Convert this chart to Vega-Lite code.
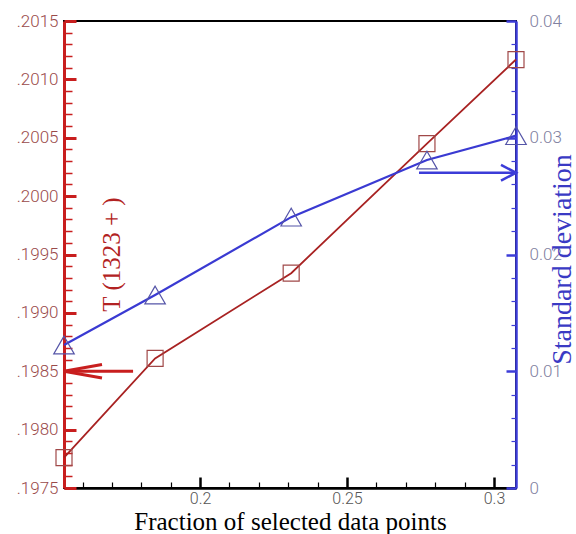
{
  "$schema": "https://vega.github.io/schema/vega-lite/v6.json",
  "width": 452,
  "height": 467,
  "autosize": {"type": "none"},
  "padding": {"left": 64, "top": 21, "right": 60, "bottom": 46},
  "config": {
    "view": {"stroke": "black", "strokeWidth": 2},
    "axis": {"grid": false, "labelFlush": false, "labelOverlap": false, "labelFont": "Roboto", "labelFontWeight": 300, "labelFontSize": 17, "titleFont": "Liberation Serif", "titleFontWeight": "normal"}
  },
  "datasets": {
    "temp": [
      {"fraction": 0.1537, "T": 0.19776},
      {"fraction": 0.1847, "T": 0.19861},
      {"fraction": 0.231, "T": 0.19934},
      {"fraction": 0.2772, "T": 0.20045},
      {"fraction": 0.3075, "T": 0.20117}
    ],
    "std": [
      {"fraction": 0.1537, "sd": 0.01225},
      {"fraction": 0.1847, "sd": 0.01653},
      {"fraction": 0.231, "sd": 0.0232},
      {"fraction": 0.2772, "sd": 0.02809},
      {"fraction": 0.3075, "sd": 0.03018}
    ],
    "arrowT": [{"from": 0.1772, "to": 0.1537, "T": 0.1985}],
    "arrowSd": [{"from": 0.2745, "to": 0.3075, "sd": 0.027}]
  },
  "layer": [
    {
      "layer": [
        {
          "data": {"name": "temp"},
          "mark": {"type": "line", "color": "#a82222", "strokeWidth": 1.8},
          "encoding": {
            "x": {"field": "fraction", "type": "quantitative", "scale": {"domain": [0.1537, 0.3075], "nice": false, "zero": false},
              "axis": {
                "orient": "bottom",
                "values": [0.16, 0.17, 0.18, 0.19, 0.2, 0.21, 0.22, 0.23, 0.24, 0.25, 0.26, 0.27, 0.28, 0.29, 0.3],
                "tickCount": 200,
                "labelOverlap": false,
                "domainColor": "black", "domainWidth": 2.5,
                "tickColor": "black",
                "tickSize": {"condition": {"test": "abs(datum.value*20 - round(datum.value*20)) < 0.01", "value": -11}, "value": -6},
                "tickWidth": {"condition": {"test": "abs(datum.value*20 - round(datum.value*20)) < 0.01", "value": 2.5}, "value": 1.2},
                "labelExpr": "abs(datum.value*20 - round(datum.value*20)) < 0.01 ? format(datum.value, '~g') : ''",
                "labelPadding": 13,
                "labelFontSize": 16,
                "labelColor": "#555555",
                "title": "Fraction of selected data points",
                "titleColor": "black", "titleFontSize": 25,
                "titleX": 226, "titleY": 41, "titleBaseline": "alphabetic", "titleAlign": "center"
              }
            },
            "y": {"field": "T", "type": "quantitative", "scale": {"domain": [0.1975, 0.2015], "nice": false, "zero": false},
              "axis": {
                "orient": "left",
                "values": [0.1975,0.1976,0.1977,0.1978,0.1979,0.198,0.1981,0.1982,0.1983,0.1984,0.1985,0.1986,0.1987,0.1988,0.1989,0.199,0.1991,0.1992,0.1993,0.1994,0.1995,0.1996,0.1997,0.1998,0.1999,0.2,0.2001,0.2002,0.2003,0.2004,0.2005,0.2006,0.2007,0.2008,0.2009,0.201,0.2011,0.2012,0.2013,0.2014,0.2015],
                "tickCount": 200,
                "labelOverlap": false,
                "domainColor": "#c81e1e", "domainWidth": 3,
                "tickColor": "#c81e1e",
                "tickSize": {"condition": {"test": "abs(datum.value*2000 - round(datum.value*2000)) < 0.01", "value": -12}, "value": -8},
                "tickWidth": {"condition": {"test": "abs(datum.value*2000 - round(datum.value*2000)) < 0.01", "value": 3}, "value": 1.5},
                "labelExpr": "abs(datum.value*2000 - round(datum.value*2000)) < 0.01 ? replace(format(datum.value, '.4f'), '0.', '.') : ''",
                "labelPadding": 18,
                "labelColor": "#9a4a4a",
                "title": "T (1323 + )",
                "titleColor": "#b22222", "titleFontSize": 25,
                "titleX": 55, "titleY": 233, "titleAngle": 270, "titleBaseline": "alphabetic", "titleAlign": "center"
              }
            }
          }
        },
        {
          "data": {"name": "temp"},
          "mark": {"type": "point", "shape": "square", "size": 256, "filled": false, "color": "#a04848", "strokeWidth": 1.2, "opacity": 1},
          "encoding": {
            "x": {"field": "fraction", "type": "quantitative"},
            "y": {"field": "T", "type": "quantitative"}
          }
        },
        {
          "data": {"name": "arrowT"},
          "mark": {"type": "rule", "color": "#c81e1e", "strokeWidth": 3},
          "encoding": {
            "x": {"field": "to", "type": "quantitative"},
            "x2": {"field": "from"},
            "y": {"field": "T", "type": "quantitative"}
          }
        },
        {
          "data": {"name": "arrowT"},
          "mark": {"type": "point", "shape": "M 1 -0.18 L 0 0 L 1 0.18", "size": 5776, "filled": false, "color": "#c81e1e", "strokeWidth": 3, "opacity": 1},
          "encoding": {
            "x": {"field": "to", "type": "quantitative"},
            "y": {"field": "T", "type": "quantitative"}
          }
        }
      ]
    },
    {
      "layer": [
        {
          "data": {"name": "std"},
          "mark": {"type": "line", "color": "#3a3ad2", "strokeWidth": 2.2},
          "encoding": {
            "x": {"field": "fraction", "type": "quantitative"},
            "y": {"field": "sd", "type": "quantitative", "scale": {"domain": [0, 0.04], "nice": false},
              "axis": {
                "orient": "right",
                "values": [0,0.002,0.004,0.006,0.008,0.01,0.012,0.014,0.016,0.018,0.02,0.022,0.024,0.026,0.028,0.03,0.032,0.034,0.036,0.038,0.04],
                "tickCount": 200,
                "labelOverlap": false,
                "domainColor": "#3c3cd8", "domainWidth": 2.5,
                "tickColor": "#3c3cd8",
                "tickSize": {"condition": {"test": "abs(datum.value*100 - round(datum.value*100)) < 0.01", "value": -10}, "value": -5},
                "tickWidth": {"condition": {"test": "abs(datum.value*100 - round(datum.value*100)) < 0.01", "value": 2.5}, "value": 1.2},
                "labelExpr": "abs(datum.value*100 - round(datum.value*100)) < 0.01 ? format(datum.value, '~g') : ''",
                "labelPadding": 23,
                "labelColor": "#8080a0",
                "title": "Standard deviation",
                "titleColor": "#3a3ac4", "titleFontSize": 28,
                "titleX": 54, "titleY": 238, "titleAngle": 270, "titleBaseline": "alphabetic", "titleAlign": "center"
              }
            }
          }
        },
        {
          "data": {"name": "std"},
          "mark": {"type": "point", "shape": "triangle-up", "size": 420, "filled": false, "color": "#5555a8", "strokeWidth": 1.2, "opacity": 1},
          "encoding": {
            "x": {"field": "fraction", "type": "quantitative"},
            "y": {"field": "sd", "type": "quantitative"}
          }
        },
        {
          "data": {"name": "arrowSd"},
          "mark": {"type": "rule", "color": "#3c3cd8", "strokeWidth": 2.5},
          "encoding": {
            "x": {"field": "from", "type": "quantitative"},
            "x2": {"field": "to"},
            "y": {"field": "sd", "type": "quantitative"}
          }
        },
        {
          "data": {"name": "arrowSd"},
          "mark": {"type": "point", "shape": "M -1 -0.53 L 0 0 L -1 0.53", "size": 900, "filled": false, "color": "#3c3cd8", "strokeWidth": 2.5, "opacity": 1},
          "encoding": {
            "x": {"field": "to", "type": "quantitative"},
            "y": {"field": "sd", "type": "quantitative"}
          }
        }
      ]
    }
  ],
  "resolve": {"scale": {"y": "independent"}}
}
